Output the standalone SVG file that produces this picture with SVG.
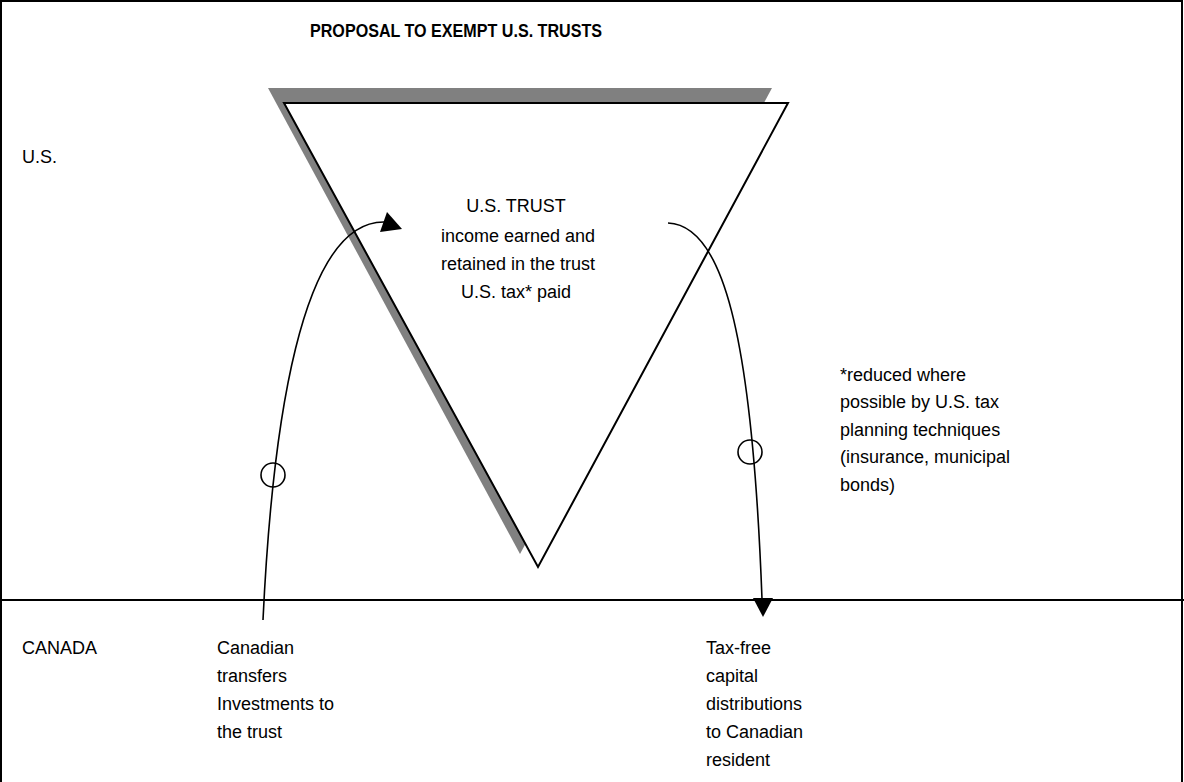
<svg xmlns="http://www.w3.org/2000/svg" width="1184" height="782" viewBox="0 0 1184 782">
<style>
text{font-family:"Liberation Sans",Arial,sans-serif;font-size:18px;fill:#000}
.title{font-weight:bold;font-size:18px}
.mid{text-anchor:middle}
.ln{fill:none;stroke:#000;stroke-width:2}
.arc{fill:none;stroke:#000;stroke-width:1.6}
.circ{fill:none;stroke:#000;stroke-width:1.6}
.head{fill:#000}
</style>
<rect width="1184" height="782" fill="#fff"/>
<g id="frame">
<path class="ln" d="M1,782 V1 H1182 V782"/>
<line class="ln" x1="0" y1="600" x2="1184" y2="600"/>
</g>
<text class="title" x="310" y="37" textLength="292" lengthAdjust="spacingAndGlyphs">PROPOSAL TO EXEMPT U.S. TRUSTS</text>
<text x="22" y="163">U.S.</text>
<text x="22" y="654">CANADA</text>
<g id="trust">
<polygon points="268,88 772,88 520,554" fill="#808080"/>
<polygon points="284,103 788,103 538,567" fill="#fff" stroke="#000" stroke-width="2" stroke-linejoin="miter"/>
<text class="mid" x="516" y="212">U.S. TRUST</text>
<text class="mid" x="518" y="242">income earned and</text>
<text class="mid" x="518" y="270">retained in the trust</text>
<text class="mid" x="516" y="298">U.S. tax* paid</text>
</g>
<g id="note">
<text x="840" y="381">*reduced where</text>
<text x="840" y="408">possible by U.S. tax</text>
<text x="840" y="436">planning techniques</text>
<text x="840" y="463">(insurance, municipal</text>
<text x="840" y="491">bonds)</text>
</g>
<g id="canadian">
<text x="217" y="654">Canadian</text>
<text x="217" y="682">transfers</text>
<text x="217" y="710">Investments to</text>
<text x="217" y="738">the trust</text>
</g>
<g id="distributions">
<text x="706" y="654">Tax-free</text>
<text x="706" y="682">capital</text>
<text x="706" y="710">distributions</text>
<text x="706" y="738">to Canadian</text>
<text x="706" y="766">resident</text>
</g>
<g id="connectors">
<path class="arc" d="M263,620 C272,430 300,218 386,222"/>
<polygon class="head" points="402,229 387,212 380,232"/>
<circle class="circ" cx="273" cy="475" r="12"/>
<path class="arc" d="M668,223 C722,225 752,330 762,599"/>
<polygon class="head" points="753,598 773,598 763,617"/>
<circle class="circ" cx="750" cy="452" r="12"/>
</g>
</svg>
